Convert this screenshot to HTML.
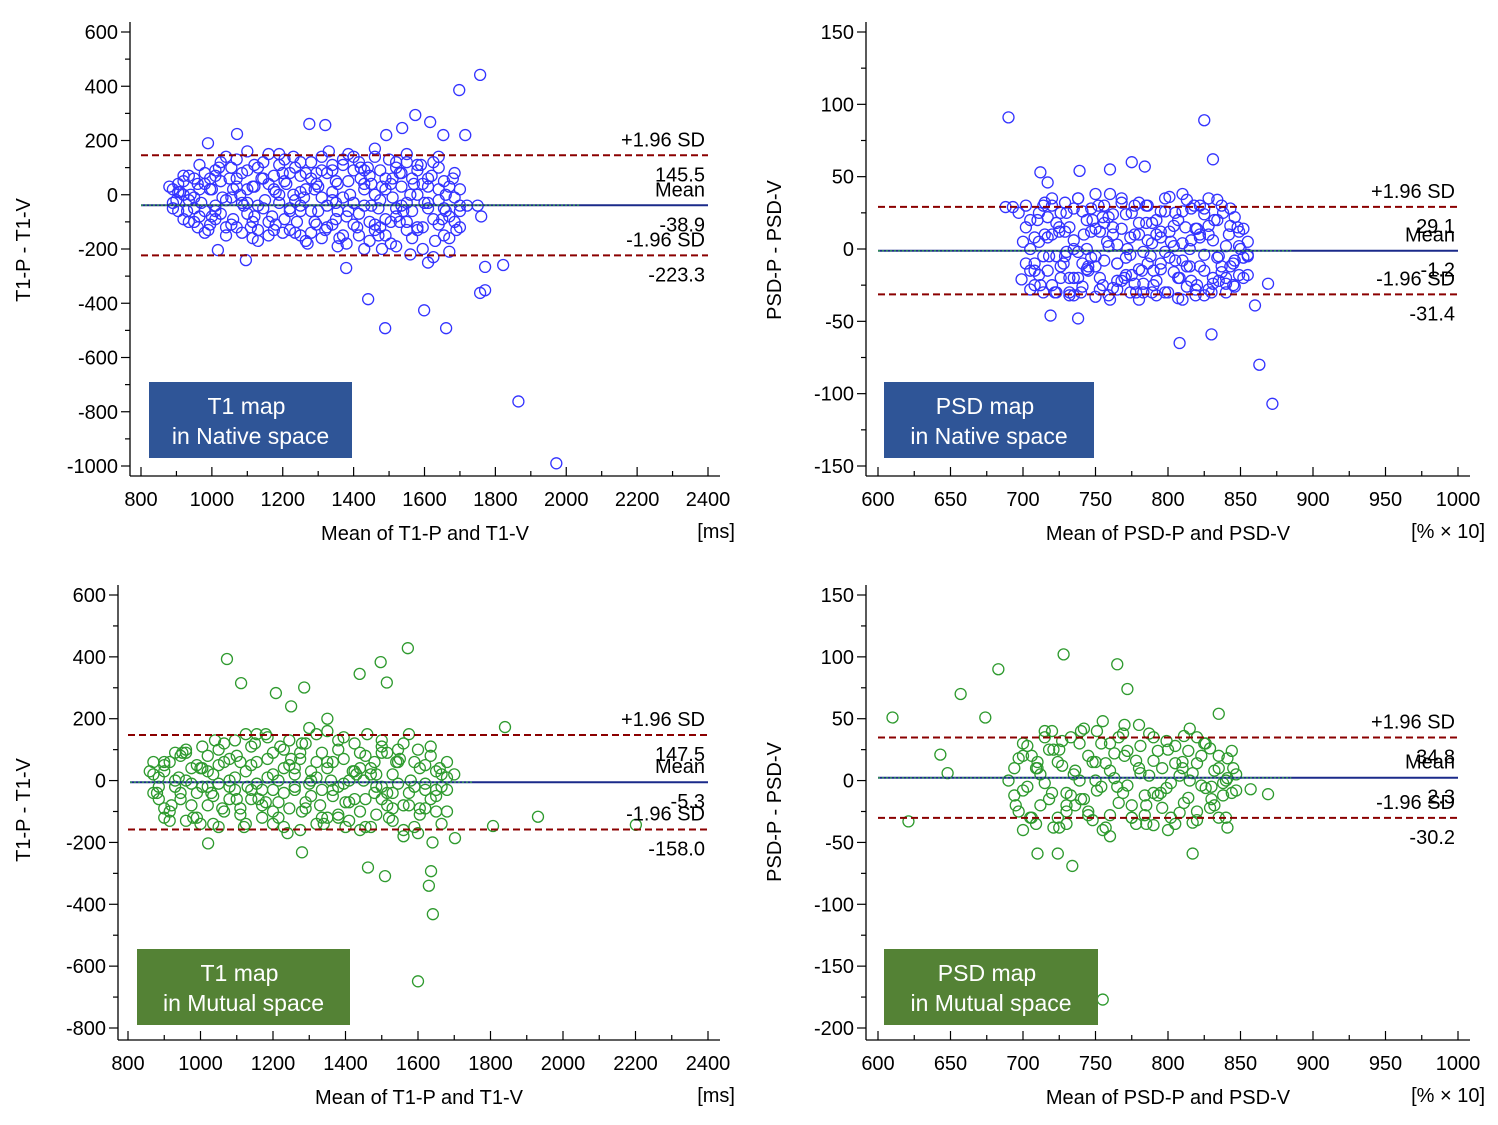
<!DOCTYPE html>
<html><head><meta charset="utf-8"><style>
body{margin:0;background:#fff;}
svg{display:block;font-family:"Liberation Sans",sans-serif;}
</style></head><body>
<svg id="c" width="1498" height="1125" viewBox="0 0 1498 1125"></svg>
<script>
// ---- Panel 1: T1 native ----
const p1X=[880,900,910,920,930,940,950,960,970,980,990,1000,1010,1020,1030,1040,1050,1060,1070,1080,1090,1100,1110,1120,1130,1140,1150,1160,1170,1180,1190,1200,1210,1220,1230,1240,1250,1260,1270,1280,1290,1300,1310,1320,1330,1340,1350,1360,1370,1380,1390,1400,1410,1420,1430,1440,1450,1460,1470,1480,1490,1500,1510,1520,1530,1540,1550,1560,1570,1580,1590,1600,1610,1620,1630,1640,1650,1660,1670,1680,1690,1700,1720,1750,1760,960,1010,1060,1120,1180,1230,1290,1340,1400,1450,1510,1560,1610,1660,1120,1250,1380,1480,1550,1300,1200,1100,1000,1350,1430,1470,1530,1580,1640,1757,1698,1574,1616,1537,1653,1715,1275,1320,1071,989,1492,1489,1661,1599,1771,1757,1822,1771,1865,1972,1441,1096,1017,1379,1250,1350,1420,1460,1520];
const p1Y=[30,-20,10,50,-60,0,-100,40,-30,80,-130,20,-60,100,-10,-150,60,-90,130,0,-40,90,-120,30,-170,60,-20,150,-80,10,110,-140,40,-50,140,-100,70,-10,-180,120,20,-60,90,-130,160,-20,50,-160,110,-80,0,140,-120,60,-200,100,-40,170,-150,30,-90,130,-10,-190,80,-60,150,-220,40,-120,110,-30,-250,70,-170,140,-90,0,-210,60,-130,-40,-40,-40,-80,-120,70,20,-80,-110,0,-100,90,-30,40,60,0,30,-60,110,-150,-180,-200,-130,30,80,-30,-80,-90,20,-50,-100,90,-110,442,386,294,268,246,220,220,261,257,224,190,220,-492,-492,-426,-352,-362,-259,-266,-762,-990,-385,-241,-204,-270,-40,-30,100,-110,120];
const p1XB=[890,905,920,935,950,965,980,995,1010,1025,1040,1055,1070,1085,1100,1115,1130,1145,1160,1175,1190,1205,1220,1235,1250,1265,1280,1295,1310,1325,1340,1355,1370,1385,1400,1415,1430,1445,1460,1475,1490,1505,1520,1535,1550,1565,1580,1595,1610,1625,1640,1655,1670,1685,1700];
const p1YB=[-50,40,-90,70,-10,110,-140,20,90,-70,140,-110,60,-30,160,-160,100,-50,40,-130,150,-90,80,-20,120,-170,60,-110,140,-40,10,-190,130,-60,90,-150,40,-100,140,-20,60,-180,100,-40,120,-160,0,-200,60,-90,100,-150,30,-100,-60];
const p1YC=[20,-60,0,-20,60,-80,40,-110,-40,50,-20,100,-120,80,-70,30,-40,120,-100,70,-30,50,-130,100,-60,20,-140,80,-10,-120,110,-60,-10,50,-110,120,-40,70,-130,90,-150,40,-80,30,-100,60,-130,40,-50,120,-20,50,-80,-10,20];
const p1YD=[-30,10,70,-100,-50,20,-60,60,-90,120,-120,-10,30,-140,20,-100,-130,60,-150,20,0,130,-60,-140,10,80,-60,40,-160,80,-110,40,-150,150,-30,-70,90,-170,0,-120,20,-100,-50,80,-30,-60,110,-120,-30,-230,20,-50,-160,80,-120];
const p1Stats=[145.5,-38.9,-223.3];
const p1XTicks=[800,1000,1200,1400,1600,1800,2000,2200,2400];
const p1YTicks=[600,400,200,0,-200,-400,-600,-800,-1000];
// ---- Panel 2: PSD native ----
const p2X=[700,705,710,712,715,718,720,722,725,728,730,732,735,738,740,742,745,748,750,752,755,758,760,762,765,768,770,772,775,778,780,782,785,788,790,792,795,798,800,802,805,808,810,812,815,818,820,822,825,828,830,832,835,838,840,842,845,848,850,855,708,725,745,765,785,805,825,845,715,735,755,775,795,815,835,730,760,790,820,750,780,810,690,825,831,712,717,739,760,775,784,688,693,697,719,738,808,830,863,872,860,869,699];
const p2Y=[5,-15,20,-25,10,-5,30,-30,15,-10,25,-20,0,35,-30,10,-15,20,-5,30,-25,5,-35,15,-10,35,-20,0,25,-30,10,-15,30,-5,-25,20,-10,35,-30,5,25,-20,-35,15,0,30,-25,10,-15,35,-30,20,-5,25,-20,10,-10,15,0,-5,-10,12,-12,-28,18,-8,28,-25,32,-32,22,-18,8,-12,-22,-2,38,-15,14,38,-35,38,91,89,62,53,46,54,55,60,57,29,29,25,-46,-48,-65,-59,-80,-107,-39,-24,-21];
const p2XB=[702,705,708,711,714,717,720,723,726,729,732,735,738,741,744,747,750,753,756,759,762,765,768,771,774,777,780,783,786,789,792,795,798,801,804,807,810,813,816,819,822,825,828,831,834,837,840,843,846,849,852,855];
const p2YB=[-10,20,-25,5,30,-15,10,-30,25,-5,15,-20,35,-10,0,28,-33,12,-8,22,-27,3,32,-18,8,-24,18,-2,30,-30,10,-14,26,-6,16,-34,4,34,-22,14,-12,24,-28,6,20,-16,2,28,-8,12,-20,5];
const p2YC=[15,-28,8,-18,-5,22,-25,18,-12,32,-30,6,-20,26,-14,-6,14,-20,30,-32,10,-10,-22,24,-4,30,-14,-30,6,18,-22,26,-30,12,-16,20,-8,-12,28,-28,8,-32,16,-20,-6,30,-24,-12,22,-18,14,-4];
const p2YD=[30,0,-15,25,-30,8,35,-5,-20,12,-32,28,-2,-26,20,12,-12,-28,18,2,24,-22,14,-6,-30,10,32,-24,-10,4,-32,12,-2,36,2,-20,26,-26,6,-32,30,-4,10,-24,34,-12,-30,16,-26,2,-6,-18];
const p2Stats=[29.1,-1.2,-31.4];
const p2XTicks=[600,650,700,750,800,850,900,950,1000];
const p2YTicks=[150,100,50,0,-50,-100,-150];
// ---- Panel 3: T1 mutual ----
const p3X=[860,880,900,920,940,960,980,1000,1020,1040,1060,1080,1100,1120,1140,1160,1180,1200,1220,1240,1260,1280,1300,1320,1340,1360,1380,1400,1420,1440,1460,1480,1500,1520,1540,1560,1580,1600,1620,1640,1660,1680,1700,900,950,1000,1050,1100,1150,1200,1250,1300,1350,1400,1450,1500,1550,1600,1650,1130,1230,1330,1430,1530,1030,1180,1280,1380,1480,1073,1572,1497,1439,1514,1286,1208,1112,1600,1641,1636,1840,1931,1807,2201,1702,1021,1280,1462,1509,1630,1350,1250];
const p3Y=[30,-40,60,-80,10,100,-120,40,-20,130,-90,0,80,-150,50,-60,150,-30,110,-170,20,-100,170,60,-140,0,130,-70,30,-160,150,-40,90,-120,60,-180,0,100,-90,-200,40,-100,20,-120,90,-140,50,-60,120,-100,70,-10,160,-150,0,-60,70,-170,-30,-20,40,-80,20,-90,-40,-70,120,-120,60,393,428,383,345,317,301,283,315,-649,-432,-293,173,-117,-147,-143,-186,-203,-232,-281,-309,-340,200,240];
const p3XB=[870,885,900,915,930,945,960,975,990,1005,1020,1035,1050,1065,1080,1095,1110,1125,1140,1155,1170,1185,1200,1215,1230,1245,1260,1275,1290,1305,1320,1335,1350,1365,1380,1395,1410,1425,1440,1455,1470,1485,1500,1515,1530,1545,1560,1575,1590,1605,1620,1635,1650,1665,1680];
const p3YB=[20,-60,50,-100,0,80,-130,40,-40,110,-80,20,-150,60,-20,130,-110,30,-60,150,-30,70,-140,0,100,-90,40,-160,120,-50,10,90,-120,60,-20,140,-70,30,-100,80,-150,20,110,-40,-130,60,-80,150,-20,-110,50,-60,30,-140,10];
const p3YC=[-40,10,-90,60,-20,-60,90,-10,-120,40,30,-50,100,-100,70,-30,60,-140,110,-10,-80,140,20,-120,-40,50,-20,90,-70,30,-140,-30,60,-50,100,-10,-130,120,40,-60,20,-110,-20,90,-40,-10,120,-80,-150,40,-30,80,-100,-20,60];
const p3YD=[60,-20,30,-130,90,-40,0,-80,50,-20,80,-140,-10,120,-60,10,-90,150,-30,60,-120,10,90,-70,-150,130,-30,70,-90,0,150,-120,40,-30,-110,70,0,-60,90,-150,40,-20,130,-80,20,100,-160,-40,60,-90,-10,110,-50,20,-30];
const p3Stats=[147.5,-5.3,-158.0];
const p3XTicks=[800,1000,1200,1400,1600,1800,2000,2200,2400];
const p3YTicks=[600,400,200,0,-200,-400,-600,-800];
// ---- Panel 4: PSD mutual ----
const p4X=[690,695,700,705,710,715,720,725,730,735,740,745,750,755,760,765,770,775,780,785,790,795,800,805,810,815,820,825,830,835,840,845,700,720,740,760,780,800,820,840,710,730,750,770,790,810,830,725,755,785,815,610,621,643,648,657,674,683,728,765,772,734,710,724,817,857,869,841,835,755];
const p4Y=[0,-20,20,-30,10,35,-10,25,-35,5,40,-25,15,-40,30,-5,45,-30,10,-20,35,-10,25,-35,15,0,-25,30,-15,20,-30,10,-40,40,-15,-45,45,-40,35,0,15,-20,0,20,-10,10,-5,-38,48,-35,42,51,-33,21,6,70,51,90,102,94,74,-69,-59,-59,-59,-7,-11,-38,54,-177];
const p4XB=[694,697,700,703,706,709,712,715,718,721,724,727,730,733,736,739,742,745,748,751,754,757,760,763,766,769,772,775,778,781,784,787,790,793,796,799,802,805,808,811,814,817,820,823,826,829,832,835,838,841,844,847];
const p4YB=[10,-25,30,-5,20,-35,5,40,-15,25,-30,12,-10,35,-20,0,42,-28,15,-8,30,-38,8,22,-18,38,-4,-30,16,28,-12,4,-36,24,-22,32,-2,14,-26,36,-14,6,-32,20,-6,26,-20,10,-2,18,-10,5];
const p4YC=[-12,18,-8,28,-30,10,-20,-2,25,-38,15,32,-25,-12,8,30,-15,20,-32,40,-5,14,-28,2,35,-10,24,-20,-35,6,-28,38,16,-12,10,-6,-30,28,4,-18,24,-34,14,-4,30,-22,8,-30,-12,2,24,-8];
const p4Stats=[34.8,2.3,-30.2];
const p4XTicks=[600,650,700,750,800,850,900,950,1000];
const p4YTicks=[150,100,50,0,-50,-100,-150,-200];

const NS="http://www.w3.org/2000/svg";
const svg=document.getElementById('c');
function mk(tag,attrs,parent,text){const e=document.createElementNS(NS,tag);for(const k in attrs)e.setAttribute(k,attrs[k]);if(text!==undefined)e.textContent=text;(parent||svg).appendChild(e);return e;}

function panel(o){
  const g=mk('g',{});
  
  
  const sx=v=>o.px0+(v-o.xMin)/(o.xMax-o.xMin)*(o.px1-o.px0);
  const sy=v=>o.py0+(o.yMax-v)/(o.yMax-o.yMin)*(o.py1-o.py0);
  const ya=mk('line',{x1:o.axX,y1:o.py0-10,x2:o.axX,y2:o.axY,stroke:'#000','stroke-width':1.3},g);
  
  
  const xa=mk('line',{x1:o.axX,y1:o.axY,x2:o.px1+12,y2:o.axY,stroke:'#000','stroke-width':1.3},g);
  
  
  o.yTicks.forEach((t,i)=>{
    const y=sy(t);
    mk('line',{x1:o.axX-9,y1:y,x2:o.axX,y2:y,stroke:'#000','stroke-width':1.2},g);
    if(i<o.yTicks.length-1){const ym=sy(t-(o.yTicks[0]-o.yTicks[1])/2);mk('line',{x1:o.axX-5,y1:ym,x2:o.axX,y2:ym,stroke:'#000','stroke-width':1.2},g);}
    const tl=mk('text',{x:o.axX-12,y:y+7,'text-anchor':'end','font-size':20,fill:'#000'},g,String(t));
    
    
  });
  o.xTicks.forEach((t,i)=>{
    const x=sx(t);
    mk('line',{x1:x,y1:o.axY-9,x2:x,y2:o.axY,stroke:'#000','stroke-width':1.2},g);
    if(i<o.xTicks.length-1){const xm=sx(t+(o.xTicks[1]-o.xTicks[0])/2);mk('line',{x1:xm,y1:o.axY-5,x2:xm,y2:o.axY,stroke:'#000','stroke-width':1.2},g);}
    const tl=mk('text',{x:x,y:o.axY+30,'text-anchor':'middle','font-size':20,fill:'#000'},g,String(t));
    
    
  });
  for(let i=0;i<o.xs.length;i++){
    const c=mk('circle',{cx:sx(o.xs[i]),cy:sy(o.ys[i]),r:5.5,fill:'none',stroke:o.col,'stroke-width':1.3},g);
    
    
  }
  const [up,mean,lo]=o.stats;
  const ul=mk('line',{x1:sx(o.xMin),y1:sy(up),x2:o.px1,y2:sy(up),stroke:'#8b0000','stroke-width':2,'stroke-dasharray':'7,4'},g);
  
  
  const ll=mk('line',{x1:sx(o.xMin),y1:sy(lo),x2:o.px1,y2:sy(lo),stroke:'#8b0000','stroke-width':2,'stroke-dasharray':'7,4'},g);
  
  
  const ml=mk('line',{x1:o.meanX0,y1:sy(mean),x2:o.px1,y2:sy(mean),stroke:'#1a2a8a','stroke-width':2},g);
  
  
  mk('line',{x1:o.meanX0,y1:sy(mean),x2:sx(o.greenEnd),y2:sy(mean),stroke:'#2e8b57','stroke-width':1.5,'stroke-dasharray':'2,2'},g);
  const rx=o.px1-3;
  const labs=[['+1.96 SD',sy(up)-9],[up.toFixed(1),sy(up)+26],['Mean',sy(mean)-9],[mean.toFixed(1),sy(mean)+26],['-1.96 SD',sy(lo)-9],[lo.toFixed(1),sy(lo)+26]];
  labs.forEach(l=>{const t=mk('text',{x:rx,y:l[1],'text-anchor':'end','font-size':20,fill:'#000'},g,l[0]);
    
    });
  const yt=mk('text',{x:0,y:0,transform:`translate(${o.yTitleX},${o.yTitleY}) rotate(-90)`,'text-anchor':'middle','font-size':20,fill:'#000'},g,o.yTitle);
  
  
  const xt=mk('text',{x:o.xTitleX,y:o.axY+64,'text-anchor':'middle','font-size':20,fill:'#000'},g,o.xTitle);
  
  
  const un=mk('text',{x:o.unitX,y:o.axY+62,'text-anchor':'end','font-size':20,fill:'#000'},g,o.unit);
  
  
  const b=mk('g',{},g);
  
  
  mk('rect',{x:o.bx,y:o.by,width:o.bw,height:76,fill:o.bcol},b);
  mk('text',{x:o.bx+o.bw/2-4,y:o.by+32,'text-anchor':'middle','font-size':23,fill:'#fff'},b,o.b1);
  mk('text',{x:o.bx+o.bw/2,y:o.by+62,'text-anchor':'middle','font-size':23,fill:'#fff'},b,o.b2);
}
const blue='#3333ff', green='#2e9a2e';
panel({name:'panel-t1-native',xs:p1X.concat(p1XB,p1XB,p1XB),ys:p1Y.concat(p1YB,p1YC,p1YD),stats:p1Stats,xTicks:p1XTicks,yTicks:p1YTicks,xMin:800,xMax:2400,yMin:-1000,yMax:600,px0:141,px1:708,py0:32,py1:466,axX:130,axY:476,meanX0:141,greenEnd:2040,col:blue,yTitle:'T1-P - T1-V',yTitleX:30,yTitleY:250,xTitle:'Mean of T1-P and T1-V',xTitleX:425,unit:'[ms]',unitX:735,bx:149,by:382,bw:203,bcol:'#2f5597',b1:'T1 map',b2:'in Native space'});
panel({name:'panel-psd-native',xs:p2X.concat(p2XB,p2XB,p2XB),ys:p2Y.concat(p2YB,p2YC,p2YD),stats:p2Stats,xTicks:p2XTicks,yTicks:p2YTicks,xMin:600,xMax:1000,yMin:-150,yMax:150,px0:878,px1:1458,py0:32,py1:466,axX:866,axY:476,meanX0:878,greenEnd:885,col:blue,yTitle:'PSD-P - PSD-V',yTitleX:781,yTitleY:250,xTitle:'Mean of PSD-P and PSD-V',xTitleX:1168,unit:'[% × 10]',unitX:1485,bx:884,by:382,bw:210,bcol:'#2f5597',b1:'PSD map',b2:'in Native space'});
panel({name:'panel-t1-mutual',xs:p3X.concat(p3XB,p3XB,p3XB),ys:p3Y.concat(p3YB,p3YC,p3YD),stats:p3Stats,xTicks:p3XTicks,yTicks:p3YTicks,xMin:800,xMax:2400,yMin:-800,yMax:600,px0:128,px1:708,py0:595,py1:1028,axX:118,axY:1040,meanX0:130,greenEnd:1750,col:green,yTitle:'T1-P - T1-V',yTitleX:30,yTitleY:810,xTitle:'Mean of T1-P and T1-V',xTitleX:419,unit:'[ms]',unitX:735,bx:137,by:949,bw:213,bcol:'#548235',b1:'T1 map',b2:'in Mutual space'});
panel({name:'panel-psd-mutual',xs:p4X.concat(p4XB,p4XB),ys:p4Y.concat(p4YB,p4YC),stats:p4Stats,xTicks:p4XTicks,yTicks:p4YTicks,xMin:600,xMax:1000,yMin:-200,yMax:150,px0:878,px1:1458,py0:595,py1:1028,axX:866,axY:1040,meanX0:878,greenEnd:885,col:green,yTitle:'PSD-P - PSD-V',yTitleX:781,yTitleY:812,xTitle:'Mean of PSD-P and PSD-V',xTitleX:1168,unit:'[% × 10]',unitX:1485,bx:884,by:949,bw:214,bcol:'#548235',b1:'PSD map',b2:'in Mutual space'});
</script>
</body></html>
